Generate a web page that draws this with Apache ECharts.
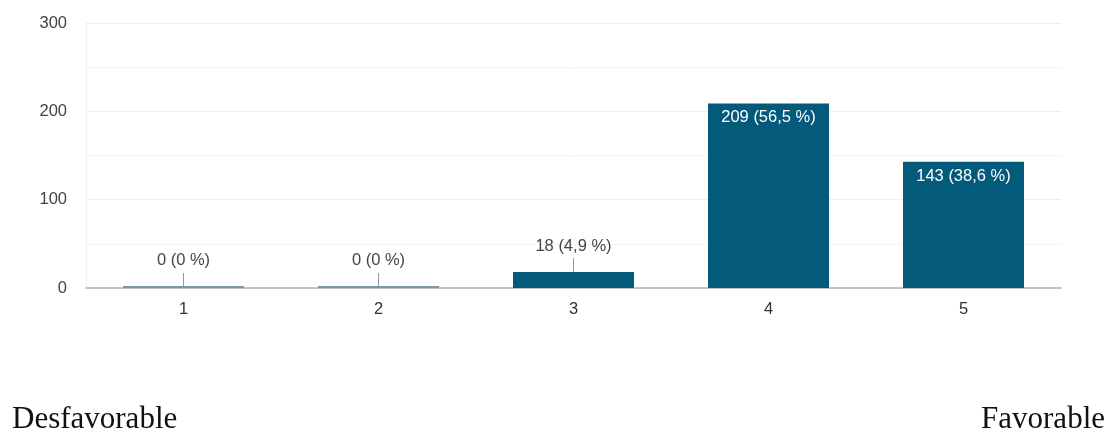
<!DOCTYPE html>
<html>
<head>
<meta charset="utf-8">
<script src="https://cdn.jsdelivr.net/npm/echarts@6/dist/echarts.min.js"></script>
<style>
  html, body { margin: 0; padding: 0; background: #fff; }
  #chart { width: 1108px; height: 433px; }
</style>
</head>
<body>
<div id="chart"></div>
<script>
// respuestas por nivel (1 = desfavorable, 5 = favorable)
var categories = ['1', '2', '3', '4', '5']
var counts = [0, 0, 18, 209, 143]
var percents = ['0', '0', '4,9', '56,5', '38,6']
var yTicks = [0, 100, 200, 300]

var chart = echarts.init(document.getElementById('chart'))

var barColor = '#045a7b'
var fontSize = 16.5
var isBig = function(v) { return v > 60 }

var data = counts.map(function(v) {
  return {
    value: v,
    itemStyle: v === 0 ? { color: '#7d97a3' } : undefined,
    label: isBig(v) ? {
      position: 'insideTop',
      distance: 6,
      color: '#fff'
    } : {
      position: 'top',
      distance: 17,
      color: '#444'
    }
  }
})

chart.setOption({
  animation: false,
  grid: { left: 86, right: 47, top: 23, bottom: 145 },
  xAxis: {
    type: 'category',
    data: categories,
    axisLine: { lineStyle: { color: '#c4c4c4', width: 2 } },
    axisTick: { show: false },
    axisLabel: { color: '#333', fontSize: fontSize, fontFamily: 'Liberation Sans', margin: 13 }
  },
  yAxis: {
    type: 'value',
    min: yTicks[0],
    max: yTicks[yTicks.length - 1],
    interval: 100,
    axisLine: { show: true, lineStyle: { color: '#eeeeee' } },
    axisTick: { show: false },
    axisLabel: { color: '#444', fontSize: fontSize, fontFamily: 'Liberation Sans', margin: 19 },
    splitLine: { lineStyle: { color: '#eeeeee' } },
    minorTick: { show: false, splitNumber: 2 },
    minorSplitLine: { show: true, lineStyle: { color: '#f4f4f4' } }
  },
  series: [
    {
      type: 'bar',
      data: data,
      barWidth: 121,
      barMinHeight: 2,
      itemStyle: { color: barColor },
      label: {
        show: true,
        fontSize: fontSize,
        fontFamily: 'Liberation Sans',
        formatter: function(p) {
          return counts[p.dataIndex] + ' (' + percents[p.dataIndex] + ' %)'
        }
      }
    },
    {
      // linea guia de las etiquetas fuera de la barra
      type: 'custom',
      silent: true,
      z: 1,
      data: counts.map(function(v, i) { return [i, v] }),
      renderItem: function(params, api) {
        if (isBig(api.value(1))) return
        var p = api.coord([api.value(0), api.value(1)])
        var top = p[1] - (api.value(1) === 0 ? 1 : 0)
        return {
          type: 'line',
          shape: { x1: p[0], y1: top, x2: p[0], y2: top - 14 },
          style: { stroke: '#999', lineWidth: 1 }
        }
      }
    }
  ],
  graphic: [
    {
      type: 'text', left: 12, top: 404,
      style: { text: 'Desfavorable', font: '31px "Liberation Serif"', fill: '#111' }
    },
    {
      type: 'text', right: 3, top: 404,
      style: { text: 'Favorable', font: '31px "Liberation Serif"', fill: '#111' }
    }
  ]
})
</script>
</body>
</html>
